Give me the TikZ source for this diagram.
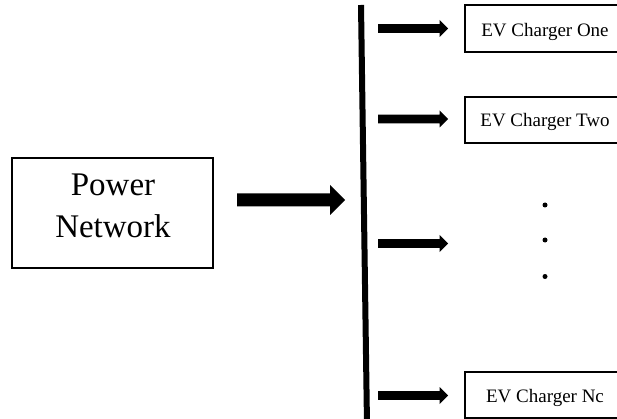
\documentclass[tikz,border=0pt]{standalone}
\usepackage{fontspec}
\setmainfont{Liberation Serif}
\usetikzlibrary{calc}
\begin{document}
\begin{tikzpicture}[x=1pt,y=-1pt,
  blockbox/.style={draw=black,line width=1.6pt,inner sep=0pt},
  bigtext/.style={font=\fontsize{33}{42}\selectfont,align=center,inner sep=0pt},
  evtext/.style={font=\fontsize{19}{22}\selectfont,inner sep=0pt,anchor=base},
  bus/.style={line width=6pt},
  dot/.style={circle,fill=black,inner sep=0pt,minimum size=5pt}]
% block arrow between two named points: shaft half width, head half width, head length
\newcommand\blockarrow[5]{%
  \fill let \p1=(#1), \p2=(#2) in
    (\x1,\y1+#3) -- (\x2-#5,\y1+#3) -- (\x2-#5,\y1+#4) -- (\x2,\y1)
    -- (\x2-#5,\y1-#4) -- (\x2-#5,\y1-#3) -- (\x1,\y1-#3) -- cycle;}
\useasboundingbox (0,0) rectangle (617,419);
\clip (0,0) rectangle (617,419);
\fill[white] (0,0) rectangle (617,419);

% source block
\node[blockbox,minimum width=201pt,minimum height=110pt] (power) at (112.5,213) {};
\node[bigtext] (powerlabel) at (113,206) {Power\\Network};

% common bus
\coordinate (bustop) at (361,5);
\coordinate (busbot) at (367,425);
\draw[bus] (bustop) -- (busbot);

% feed from the network to the bus
\coordinate (feedstart) at (237,200);
\coordinate (feedend) at (345,200);
\blockarrow{feedstart}{feedend}{6.5pt}{15pt}{15pt}

% charger blocks
\node[blockbox,minimum width=158pt,minimum height=47pt] (ev1) at (544,28.5) {};
\node[blockbox,minimum width=158pt,minimum height=46pt] (ev2) at (544,120) {};
\node[blockbox,minimum width=158pt,minimum height=46pt] (evn) at (544,395) {};
\node[evtext] (ev1text) at (545,37) {EV Charger One};
\node[evtext] (ev2text) at (545,127) {EV Charger Two};
\node[evtext] (evntext) at (545,402) {EV Charger Nc};

% branches from the bus
\foreach \yy/\k in {28.5/1,119/2,243.5/3,395.5/4}{
  \coordinate (bs\k) at (378,\yy);
  \coordinate (be\k) at (448,\yy);
  \blockarrow{bs\k}{be\k}{4.3pt}{8.5pt}{8.5pt}
}

% ellipsis
\node[dot] (d1) at (545,205) {};
\node[dot] (d2) at (545,240) {};
\node[dot] (d3) at (545,276.5) {};
\end{tikzpicture}
\end{document}
